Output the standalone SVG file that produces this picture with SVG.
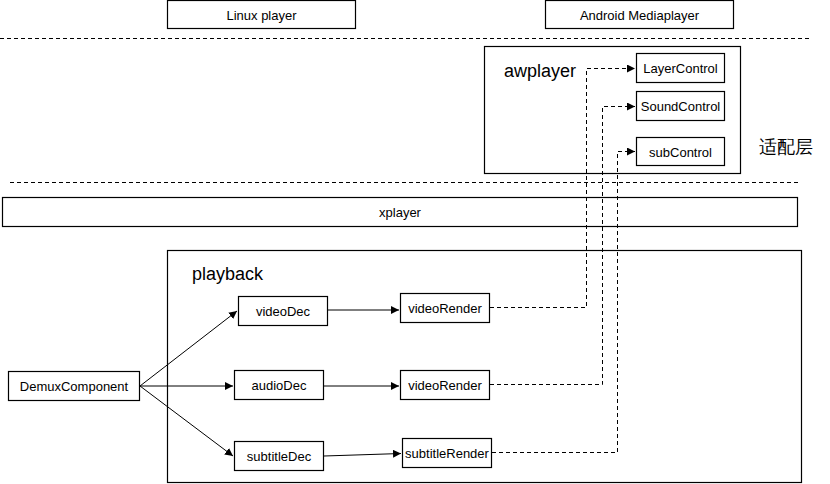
<svg xmlns="http://www.w3.org/2000/svg" width="830" height="484" viewBox="0 0 830 484">
<defs>
<style>
.box{fill:#fff;stroke:#000;stroke-width:1.2}
.t{font-family:"Liberation Sans",Arial,sans-serif;font-size:13px;fill:#000;text-anchor:middle;dominant-baseline:central}
.big{font-family:"Liberation Sans",Arial,sans-serif;font-size:18px;fill:#000}
.sep{stroke:#000;stroke-width:1;stroke-dasharray:4,3;fill:none}
.ln{stroke:#000;stroke-width:1;fill:none}
.dl{stroke:#000;stroke-width:1;fill:none;stroke-dasharray:4,3}
</style>
<marker id="ah" viewBox="0 0 10 10" refX="10" refY="5" markerWidth="8" markerHeight="8" markerUnits="userSpaceOnUse" orient="auto">
<path d="M0,0 L10,5 L0,10 z" fill="#000"/>
</marker>
</defs>
<rect width="830" height="484" fill="#fff"/>
<line class="sep" x1="0" y1="38.5" x2="812" y2="38.5"/>
<line class="sep" x1="10" y1="182.5" x2="800" y2="182.5"/>
<g id="linux-player"><rect class="box" x="167.5" y="0.5" width="188" height="28"/><text class="t" x="261.5" y="15">Linux player</text></g>
<g id="android-mediaplayer"><rect class="box" x="545.5" y="0.5" width="188" height="28"/><text class="t" x="639.5" y="15">Android Mediaplayer</text></g>
<g id="awplayer"><rect class="box" x="484.5" y="46.5" width="256" height="127"/><text class="big" x="504" y="77">awplayer</text></g>
<g id="layer-control"><rect class="box" x="636.5" y="53.5" width="88" height="29"/><text class="t" x="680.5" y="68">LayerControl</text></g>
<g id="sound-control"><rect class="box" x="636.5" y="91.5" width="88" height="29"/><text class="t" x="680.5" y="106">SoundControl</text></g>
<g id="sub-control"><rect class="box" x="636.5" y="137.5" width="88" height="28"/><text class="t" x="680.5" y="152">subControl</text></g>
<g id="adapter-label"><text class="big" x="759" y="153" font-family="'Liberation Sans','Noto Sans CJK SC',sans-serif">适配层</text></g>
<g id="xplayer"><rect class="box" x="2.5" y="197.5" width="795" height="29"/><text class="t" x="400" y="212">xplayer</text></g>
<g id="playback"><rect class="box" x="167.5" y="250.5" width="634" height="232"/><text class="big" x="192" y="280">playback</text></g>
<g id="demux"><rect class="box" x="8.5" y="371.5" width="131" height="29"/><text class="t" x="74" y="386">DemuxComponent</text></g>
<g id="video-dec"><rect class="box" x="238.5" y="296.5" width="89" height="29"/><text class="t" x="283" y="311">videoDec</text></g>
<g id="audio-dec"><rect class="box" x="234.5" y="370.5" width="89" height="29"/><text class="t" x="279" y="385">audioDec</text></g>
<g id="subtitle-dec"><rect class="box" x="234.5" y="441.5" width="89" height="29"/><text class="t" x="279" y="456">subtitleDec</text></g>
<g id="video-render-1"><rect class="box" x="400.5" y="293.5" width="89" height="29"/><text class="t" x="445" y="308">videoRender</text></g>
<g id="video-render-2"><rect class="box" x="400.5" y="370.5" width="89" height="29"/><text class="t" x="445" y="385">videoRender</text></g>
<g id="subtitle-render"><rect class="box" x="402.5" y="438.5" width="89" height="29"/><text class="t" x="447" y="453">subtitleRender</text></g>
<g id="connectors">
<line class="ln" x1="140" y1="386" x2="237" y2="311" marker-end="url(#ah)"/>
<line class="ln" x1="140" y1="386" x2="233" y2="386" marker-end="url(#ah)"/>
<line class="ln" x1="140" y1="386" x2="233" y2="456" marker-end="url(#ah)"/>
<line class="ln" x1="328" y1="310" x2="399" y2="310" marker-end="url(#ah)"/>
<line class="ln" x1="324" y1="386" x2="399" y2="386" marker-end="url(#ah)"/>
<line class="ln" x1="324" y1="456" x2="401" y2="453.5" marker-end="url(#ah)" stroke="#555"/>
<polyline class="dl" points="490,307.5 586.5,307.5 586.5,68.5 635,68.5" marker-end="url(#ah)"/>
<polyline class="dl" points="490,384.5 602.5,384.5 602.5,106.5 635,106.5" marker-end="url(#ah)"/>
<polyline class="dl" points="492,452.5 617.5,452.5 617.5,151.5 635,151.5" marker-end="url(#ah)"/>
</g>
</svg>
